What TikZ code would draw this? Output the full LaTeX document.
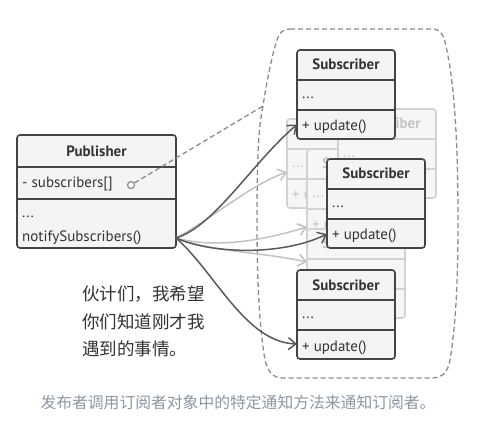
\documentclass[tikz,border=0pt]{standalone}
\usepackage{fontspec}
\setmainfont{PT Sans}
\newfontfamily\cjk{Noto Sans CJK SC}
\usetikzlibrary{arrows.meta}
\definecolor{boxfill}{HTML}{F4F4F4}
\definecolor{boxline}{HTML}{444444}
\definecolor{ghfill}{HTML}{F6F6F6}
\definecolor{ghline}{HTML}{D2D2D2}
\definecolor{ghtext}{HTML}{C4C4C4}
\definecolor{dashcol}{HTML}{8C8C8C}
\definecolor{darkarrow}{HTML}{5A5A5A}
\definecolor{lightarrow}{HTML}{C2C2C2}
\definecolor{captioncol}{HTML}{8B97A3}
\definecolor{txt}{HTML}{333333}

\newcommand\subbox[4]{%
  \node[#4box, anchor=north west, minimum width=98pt, minimum height=89pt] (#1) at (#2,#3) {};
  \draw[#4line] ([yshift=-30pt]#1.north west) -- ([yshift=-30pt]#1.north east);
  \draw[#4line] ([yshift=-60pt]#1.north west) -- ([yshift=-60pt]#1.north east);
  \node[#4title] (#1-t) at ([yshift=-20pt]#1.north) {Subscriber};
  \node[#4text] (#1-a) at ([yshift=-48.5pt, xshift=5pt]#1.north west) {...};
  \node[#4text] (#1-m) at ([yshift=-81pt, xshift=5pt]#1.north west) {+ update()};
}

\begin{document}
\begin{tikzpicture}[x=1pt,y=-1pt,
  solidbox/.style={draw=boxline, fill=boxfill, line width=1.6pt, rounded corners=3pt, inner sep=0pt, outer sep=0pt},
  solidline/.style={draw=boxline, line width=1.6pt},
  solidtitle/.style={font=\fontsize{15}{18}\selectfont\bfseries, text=txt, inner sep=0pt, anchor=base},
  solidtext/.style={font=\fontsize{15}{18}\selectfont, text=txt, inner sep=0pt, anchor=base west},
  ghostbox/.style={draw=ghline, fill=ghfill, line width=1.6pt, rounded corners=3pt, inner sep=0pt, outer sep=0pt},
  ghostline/.style={draw=ghline, line width=1.6pt},
  ghosttitle/.style={font=\fontsize{15}{18}\selectfont\bfseries, text=ghtext, inner sep=0pt, anchor=base},
  ghosttext/.style={font=\fontsize{15}{18}\selectfont, text=ghtext, inner sep=0pt, anchor=base west},
  darr/.style={draw=darkarrow, line width=1.5pt, -{Straight Barb[length=7.5pt,width=12pt]}},
  larr/.style={draw=lightarrow, line width=1.5pt, -{Straight Barb[length=7.5pt,width=12pt]}},
  dashb/.style={draw=dashcol, line width=1.3pt, dash pattern=on 5pt off 3pt},
]
\useasboundingbox (0,0) rectangle (481,427);

% group boundary
\draw[dashb] (290,29) -- (432,29)
  .. controls (440,29) and (443,34) .. (445,42)
  .. controls (452,70) and (458,120) .. (458,220)
  .. controls (458,300) and (454,335) .. (450,360)
  .. controls (448,372) and (442,378) .. (432,378)
  -- (283,378)
  .. controls (273,378) and (268,372) .. (265,360)
  .. controls (260,330) and (257,290) .. (257,220)
  .. controls (257,150) and (259,125) .. (263,106)
  .. controls (266,85) and (272,55) .. (277,40)
  .. controls (279,33) and (283,29) .. (290,29);
\coordinate (bnd) at (263,106);

% publisher
\node[solidbox, anchor=north west, minimum width=159pt, minimum height=113pt] (pub) at (17,135) {};
\draw[solidline] ([yshift=-32pt]pub.north west) -- ([yshift=-32pt]pub.north east);
\draw[solidline] ([yshift=-64pt]pub.north west) -- ([yshift=-64pt]pub.north east);
\node[solidtitle] (pub-t) at ([yshift=-22pt]pub.north) {Publisher};
\node[solidtext] (pub-a) at ([yshift=-53pt, xshift=5pt]pub.north west) {- subscribers[]};
\node[solidtext] (pub-d) at ([yshift=-83pt, xshift=5pt]pub.north west) {...};
\node[solidtext] (pub-m) at ([yshift=-107pt, xshift=5pt]pub.north west) {notifySubscribers()};
\coordinate (pub-out) at ([yshift=-103pt]pub.north east);
\node[circle, draw=dashcol, fill=white, line width=1.2pt, minimum size=7pt, inner sep=0pt] (circ) at (131,185) {};
\draw[dashb] (circ) -- (bnd);

% ghost subscribers
\subbox{g2}{287}{119}{ghost}
\subbox{g3}{307}{149}{ghost}
\subbox{g1}{338}{109}{ghost}
\subbox{g4}{307}{229}{ghost}

% subscribers
\subbox{s1}{297}{50}{solid}
\subbox{s2}{327}{159}{solid}
\subbox{s3}{297}{270}{solid}

% arrows
\draw[larr] (pub-out) .. controls (210,220) and (250,185) .. ([yshift=-53pt]g2.north west);
\draw[larr] (pub-out) .. controls (220,250) and (270,238) .. ([yshift=-78pt]g3.north west);
\draw[larr] (pub-out) .. controls (212,252) and (262,252) .. ([yshift=-33pt]g4.north west);
\draw[darr] (pub-out) .. controls (215,226) and (252,163) .. ([yshift=-74.5pt]s1.north west);
\draw[darr] (pub-out) .. controls (212,254) and (282,256) .. ([yshift=-75pt]s2.north west);
\draw[darr] (pub-out) .. controls (215,272) and (245,342) .. ([yshift=-74pt]s3.north west);

% speech text
\node[font=\cjk\fontsize{17.5}{27.5}\selectfont, text=txt, align=left, anchor=north west, inner sep=0pt] (talk) at (82,286) {伙计们，我希望\\你们知道刚才我\\遇到的事情。};

% caption
\node[font=\cjk\fontsize{15.8}{18}\selectfont, text=captioncol, inner sep=0pt] (cap) at (238,402) {发布者调用订阅者对象中的特定通知方法来通知订阅者。};
\end{tikzpicture}
\end{document}
